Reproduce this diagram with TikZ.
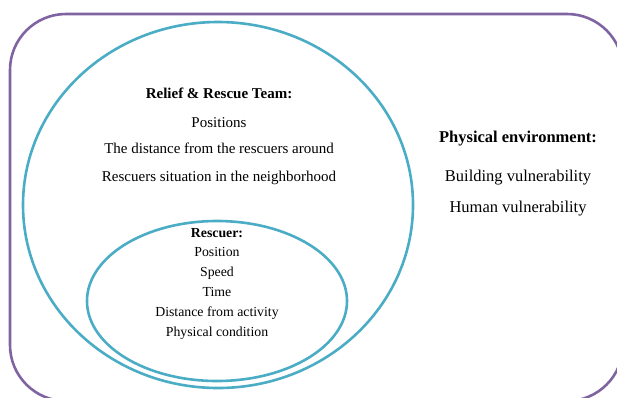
\documentclass[tikz,border=0pt]{standalone}
\usepackage{fontspec}
\setmainfont{Liberation Serif}
\usepackage{tikz}
\definecolor{envpurple}{HTML}{8064A2}
\definecolor{setblue}{HTML}{4BACC6}

\begin{document}
\begin{tikzpicture}[x=1pt,y=-1pt,
  teamtxt/.style={font=\fontsize{15}{18}\selectfont,inner sep=0pt,text height=10.2pt,text depth=3.3pt},
  mantxt/.style={font=\fontsize{13.8}{16}\selectfont,inner sep=0pt,text height=9.4pt,text depth=3pt},
  envtxt/.style={font=\fontsize{16.5}{19}\selectfont,inner sep=0pt,text height=11.2pt,text depth=3.6pt}]
\useasboundingbox (0,0) rectangle (617,397) ;
\clip (0,0) rectangle (617,397) ;
\draw[envpurple,line width=2.6pt,rounded corners=56pt] (10,14) rectangle (623,401) ;
\draw[setblue,line width=2.6pt] (218,205) ellipse (195 and 183) ;
\draw[setblue,line width=2.6pt] (217,301) ellipse (130 and 80) ;
% team
\node[teamtxt] (team) at (219,95.5) {\textbf{Relief \& Rescue Team:}} ;
\node[teamtxt] (pos) at (219,124.5) {Positions} ;
\node[teamtxt] (dist) at (219,150.5) {The distance from the rescuers around} ;
\node[teamtxt] (situ) at (219,178.5) {Rescuers situation in the neighborhood} ;
% rescuer
\node[mantxt] (man) at (217,234.5) {\textbf{Rescuer:}} ;
\node[mantxt] (manpos) at (217,253.5) {Position} ;
\node[mantxt] (speed) at (217,273.5) {Speed} ;
\node[mantxt] (time) at (217,293.5) {Time} ;
\node[mantxt] (act) at (217,313.5) {Distance from activity} ;
\node[mantxt] (cond) at (217,333.5) {Physical condition} ;
% environment
\node[envtxt] (env) at (518,138.5) {\textbf{Physical environment:}} ;
\node[envtxt] (build) at (518,177.5) {Building vulnerability} ;
\node[envtxt] (human) at (518,208.5) {Human vulnerability} ;
\end{tikzpicture}
\end{document}
